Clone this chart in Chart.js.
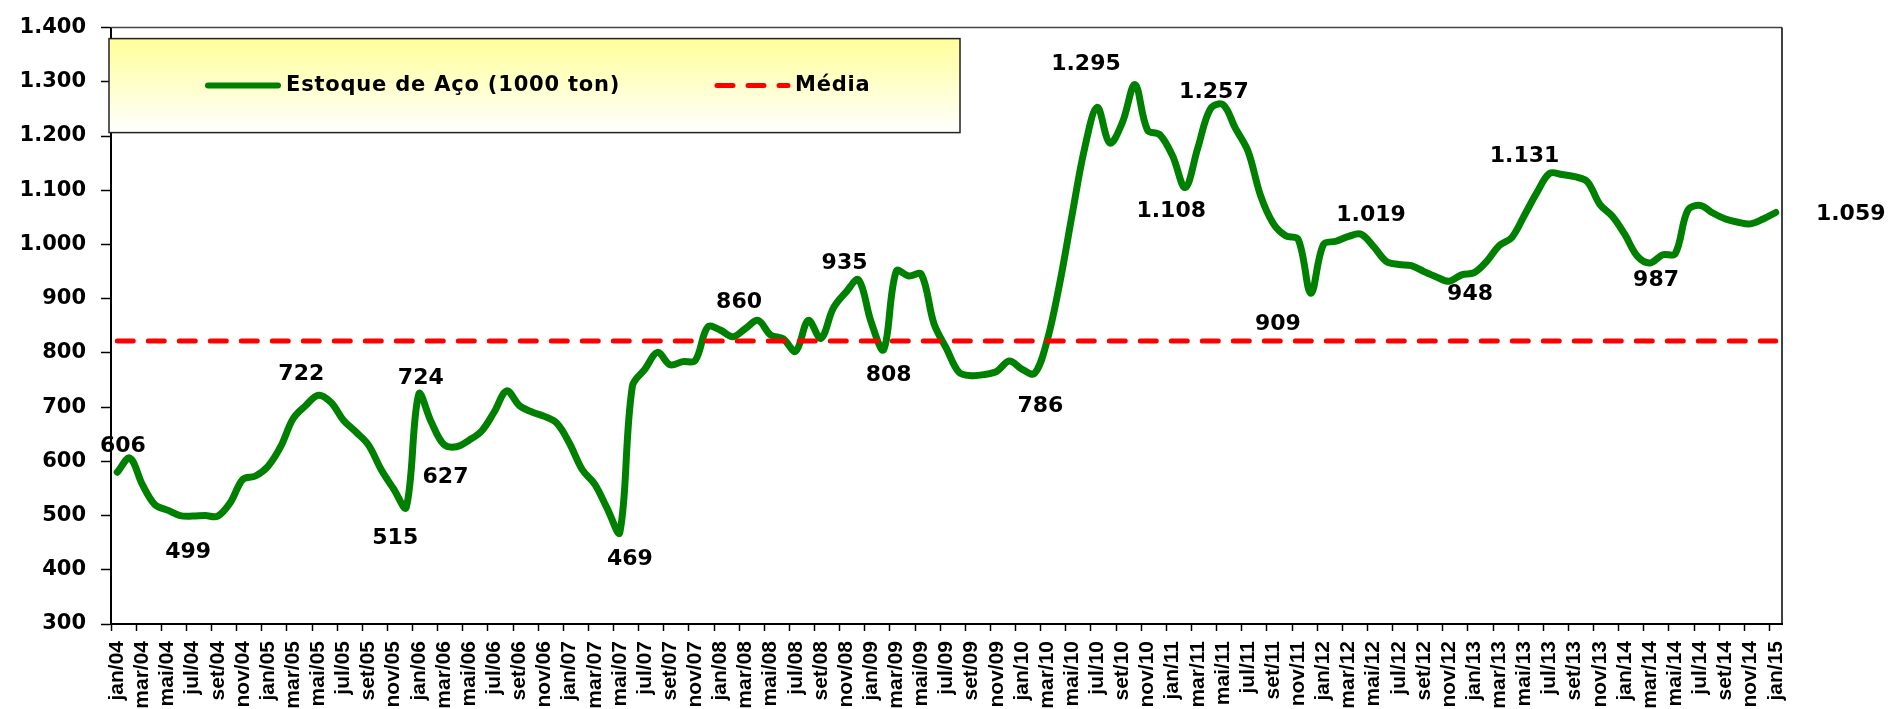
<!DOCTYPE html>
<html lang="pt-BR">
<head>
<meta charset="utf-8">
<title>Estoque de Aço</title>
<script src="https://cdn.jsdelivr.net/npm/chart.js@4.4.1/dist/chart.umd.min.js"></script>
<style>
  html, body { margin: 0; padding: 0; background: #fff; }
</style>
</head>
<body>
<canvas id="estoqueChart" width="1893" height="709"></canvas>
<script>
// meses jan/04 .. jan/15 (133 pontos)
const meses = ['jan', 'fev', 'mar', 'abr', 'mai', 'jun', 'jul', 'ago', 'set', 'out', 'nov', 'dez'];
const anos = ['04', '05', '06', '07', '08', '09', '10', '11', '12', '13', '14', '15'];

// estoque de aço (1000 ton)
const estoque = [
    580, 606, 557, 520, 510, 500, 499, 500, 499, 524, 567, 573,      // 2004
    591, 627, 679, 703, 722, 709, 676, 654, 630, 585, 549, 515,      // 2005
    724, 672, 631, 627, 639, 656, 691, 730, 703, 691, 683, 670,      // 2006
    633, 585, 558, 513, 469, 739, 770, 801, 778, 784, 786, 848,      // 2007
    842, 830, 845, 860, 833, 826, 803, 860, 827, 883, 912, 935,      // 2008
    857, 806, 951, 942, 945, 854, 808, 764, 758, 760, 766, 785,      // 2009
    770, 762, 822, 927, 1055, 1178, 1253, 1187, 1225, 1295, 1211, 1202, // 2010
    1163, 1105, 1178, 1250, 1258, 1214, 1172, 1090, 1039, 1016, 1009, 910, // 2011
    1000, 1006, 1015, 1019, 996, 969, 963, 961, 950, 940, 932, 944,  // 2012
    948, 969, 998, 1013, 1054, 1096, 1131, 1129, 1125, 1116, 1074, 1052, // 2013
    1018, 978, 966, 981, 983, 1063, 1072, 1058, 1047, 1041, 1038, 1047,  // 2014
    1059                                                              // jan/15
];
const media = 822;

// rótulos de valor escritos no gráfico
const rotuloIdx = [1, 5, 16, 23, 24, 27, 40, 51, 59, 61, 73, 81, 85, 88, 95, 99, 106, 114, 122, 132];
const rotuloTexto = ['606', '499', '722', '515', '724', '627', '469', '860', '935', '808', '786',
    '1.295', '1.108', '1.257', '909', '1.019', '948', '1.131', '987', '1.059'];
// deslocamento (px) do texto em relação ao ponto
const rotuloDesloc = [[-7, -12], [8, 37], [-17, -21], [-11, 31], [2, -16], [-11, 31], [10, 27],
    [-19, -18], [-14, -16], [5, 26], [6, 33], [-49, -20], [-14, 24], [-9, -12], [-33, 31],
    [10, -19], [21, 13], [-25, -17], [6, 17], [75, 2]];

const categorias = [];
anos.forEach(a => meses.forEach(m => categorias.push(m + '/' + a)));
categorias.length = estoque.length;

function milhar(v) {
    if (v < 1000) return String(v);
    return Math.floor(v / 1000) + '.' + String(v % 1000).padStart(3, '0');
}

const fonteBold = (size, family) => ({ family: family, size: size, weight: 'bold' });

const moldura = {
    id: 'moldura',
    beforeDatasetsDraw(chart) {
        const { ctx, chartArea } = chart;
        ctx.save();
        ctx.lineWidth = 1.5;
        ctx.strokeStyle = '#444';
        ctx.beginPath();
        ctx.moveTo(chartArea.left, chartArea.top);
        ctx.lineTo(chartArea.right, chartArea.top);
        ctx.stroke();
        ctx.strokeStyle = '#000';
        ctx.beginPath();
        ctx.moveTo(chartArea.right, chartArea.top);
        ctx.lineTo(chartArea.right, chartArea.bottom);
        ctx.stroke();
        ctx.restore();
    }
};

const legenda = {
    id: 'legenda',
    afterDraw(chart) {
        const { ctx, chartArea } = chart;
        const x = chartArea.left - 2, y = chartArea.top + 11, w = 851, h = 94;
        const g = ctx.createLinearGradient(0, y, 0, y + h);
        g.addColorStop(0, '#FFFF99');
        g.addColorStop(1, '#FFFFFF');
        ctx.save();
        ctx.fillStyle = g;
        ctx.fillRect(x, y, w, h);
        ctx.strokeStyle = '#222';
        ctx.lineWidth = 1.5;
        ctx.strokeRect(x, y, w, h);
        const cy = y + 47;
        const itens = [
            { ds: chart.data.datasets[0], x0: 208, x1: 278, tx: 286 },
            { ds: chart.data.datasets[1], x0: 717, x1: 788, tx: 795 }
        ];
        itens.forEach(it => {
            ctx.strokeStyle = it.ds.borderColor;
            ctx.lineWidth = Math.min(it.ds.borderWidth, 6);
            ctx.lineCap = 'round';
            ctx.setLineDash(it.ds.borderDash || []);
            ctx.beginPath();
            ctx.moveTo(it.x0, cy);
            ctx.lineTo(it.x1, cy);
            ctx.stroke();
            ctx.setLineDash([]);
            ctx.fillStyle = '#000';
            ctx.font = 'bold 21px "DejaVu Sans", sans-serif';
            ctx.letterSpacing = '0.8px';
            ctx.textAlign = 'left';
            ctx.textBaseline = 'middle';
            ctx.fillText(it.ds.label, it.tx, cy);
        });
        ctx.restore();
    }
};

const rotulos = {
    id: 'rotulos',
    afterDatasetsDraw(chart) {
        const { ctx, scales } = chart;
        ctx.save();
        ctx.font = 'bold 22px "DejaVu Sans", sans-serif';
        ctx.fillStyle = '#000';
        ctx.textAlign = 'center';
        ctx.textBaseline = 'middle';
        rotuloIdx.forEach((idx, k) => {
            const [dx, dy] = rotuloDesloc[k];
            const px = scales.x.getPixelForValue(idx) + dx;
            const py = scales.y.getPixelForValue(estoque[idx]) + dy;
            ctx.fillText(rotuloTexto[k], px, py);
        });
        ctx.restore();
    }
};

new Chart(document.getElementById('estoqueChart'), {
    type: 'line',
    data: {
        labels: categorias,
        datasets: [
            {
                label: 'Estoque de Aço (1000 ton)',
                data: estoque,
                borderColor: '#008000',
                borderWidth: 7,
                borderCapStyle: 'round',
                borderJoinStyle: 'round',
                tension: 0.35,
                pointRadius: 0,
                fill: false,
                order: 2
            },
            {
                label: 'Média',
                data: categorias.map(() => media),
                borderColor: '#FF0000',
                borderWidth: 5,
                borderDash: [16, 15],
                borderCapStyle: 'round',
                pointRadius: 0,
                fill: false,
                order: 1
            }
        ]
    },
    options: {
        responsive: false,
        animation: false,
        events: [],
        layout: { padding: { top: 17, right: 111, left: 0, bottom: 0 } },
        plugins: {
            legend: { display: false },
            tooltip: { enabled: false }
        },
        scales: {
            x: {
                type: 'category',
                offset: true,
                grid: {
                    offset: true,
                    drawOnChartArea: false,
                    tickLength: 7,
                    tickWidth: 1.5,
                    tickColor: ctx => ctx.index % 2 === 0 ? '#000' : 'rgba(0,0,0,0)'
                },
                border: { color: '#000', width: 2 },
                ticks: {
                    autoSkip: false,
                    minRotation: 90,
                    maxRotation: 90,
                    padding: 10,
                    color: '#000',
                    font: fonteBold(21, '"Liberation Sans", Arial, sans-serif'),
                    callback: function (v, i) {
                        return i % 2 === 0 ? this.getLabelForValue(v) : '';
                    }
                },
                afterFit(scale) { scale.height = 85; }
            },
            y: {
                min: 300,
                max: 1400,
                grid: { drawOnChartArea: false, tickLength: 10, tickWidth: 1.5, tickColor: '#000' },
                border: { color: '#000', width: 2 },
                ticks: {
                    stepSize: 100,
                    padding: 15,
                    color: '#000',
                    font: fonteBold(21, '"DejaVu Sans", sans-serif'),
                    callback: v => milhar(v)
                },
                afterFit(scale) { scale.width = 111; }
            }
        }
    },
    plugins: [moldura, rotulos, legenda]
});
</script>
</body>
</html>
